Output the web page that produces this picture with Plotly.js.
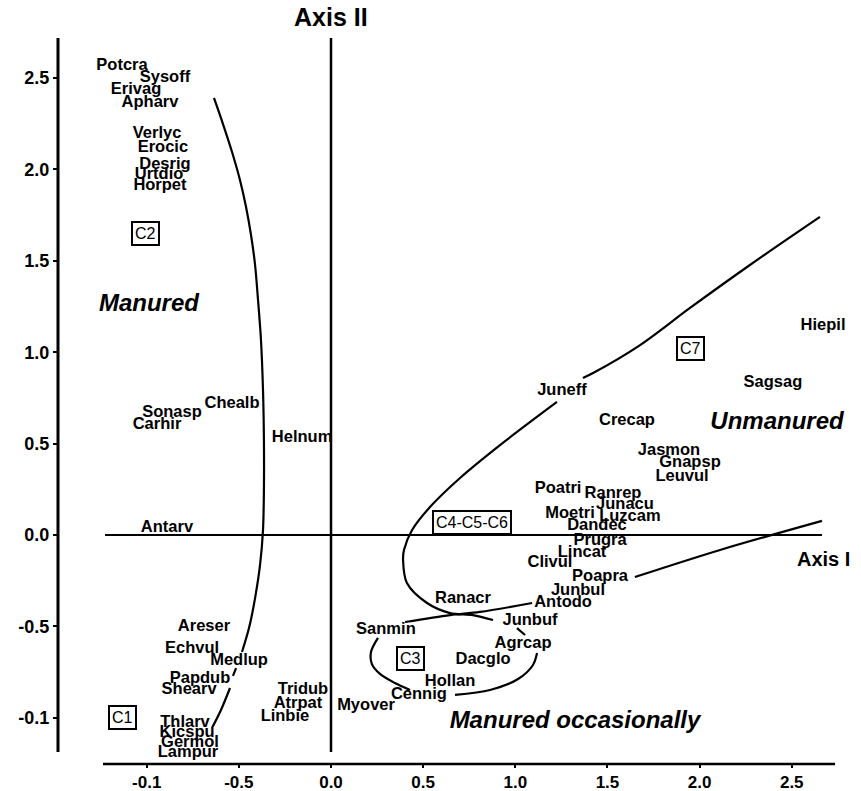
<!DOCTYPE html>
<html>
<head>
<meta charset="utf-8">
<script src="https://cdn.plot.ly/plotly-3.0.1.min.js"></script>
<style>html,body{margin:0;padding:0;background:#fff;}#chart{width:861px;height:791px;}</style>
</head>
<body>
<div id="chart"></div>
<script>
// Species codes and their ordination scores (Axis I, Axis II)
const species = ["Potcra","Sysoff","Erivag","Apharv","Verlyc","Erocic","Desrig","Urtdio","Horpet",
  "Chealb","Sonasp","Carhir","Helnum","Antarv","Areser","Echvul","Medlup","Papdub","Shearv",
  "Thlarv","Kicspu","Germol","Lampur","Tridub","Atrpat","Linbie","Myover","Sanmin","Ranacr",
  "Junbuf","Agrcap","Dacglo","Hollan","Cennig","Antodo","Junbul","Poapra","Clivul","Lincat",
  "Prugra","Dandec","Moetri","Luzcam","Junacu","Ranrep","Poatri","Juneff","Crecap","Jasmon",
  "Gnapsp","Leuvul","Sagsag","Hiepil"];
const axis1 = [-1.134,-0.901,-1.058,-0.982,-0.944,-0.912,-0.901,-0.933,-0.928,
  -0.537,-0.863,-0.944,-0.157,-0.890,-0.689,-0.754,-0.499,-0.711,-0.770,
  -0.792,-0.781,-0.765,-0.776,-0.152,-0.179,-0.250,0.190,0.298,0.716,
  1.080,1.042,0.825,0.646,0.477,1.259,1.340,1.460,1.188,1.362,
  1.460,1.443,1.297,1.622,1.595,1.530,1.232,1.253,1.606,1.834,
  1.948,1.905,2.398,2.670];
const axis2 = [2.566,2.500,2.435,2.364,2.195,2.119,2.024,1.969,1.909,
  0.717,0.667,0.602,0.531,0.038,-0.503,-0.624,-0.689,-0.788,-0.848,
  -1.028,-1.083,-1.138,-1.193,-0.848,-0.925,-0.996,-0.935,-0.520,-0.350,
  -0.470,-0.596,-0.684,-0.804,-0.875,-0.372,-0.306,-0.230,-0.153,-0.098,
  -0.033,0.049,0.115,0.098,0.164,0.224,0.252,0.788,0.624,0.460,
  0.394,0.317,0.832,1.143];

// Releve groups (boxed labels)
const groups = ["C2","C1","C3","C7","C4-C5-C6"];
const groupX = [-1.009,-1.134,0.434,1.953,0.765];
const groupY = [1.652,-0.996,-0.678,1.018,0.071];

// Management regions
const regions = ["Manured","Unmanured","Manured occasionally"];
const regionX = [-0.988,2.420,1.324];
const regionY = [1.258,0.613,-1.023];

// Boundary curves (null = gap where a label sits)
const manuredX = [-0.635,-0.586,-0.537,-0.494,-0.461,-0.434,-0.412,-0.396,-0.380,-0.369,-0.364,-0.364,-0.369,-0.385,-0.412,-0.445,-0.483,null,-0.515,-0.532,null,-0.548,-0.597,-0.646];
const manuredY = [2.391,2.248,2.095,1.942,1.794,1.641,1.477,1.286,1.067,0.793,0.520,0.246,0.027,-0.164,-0.345,-0.509,-0.640,null,-0.728,-0.771,null,-0.837,-0.957,-1.056];
const unmanuredX = [2.653,2.273,1.948,1.677,1.422,1.367,null,1.226,0.917,0.700,0.537,0.440,0.396,0.391,0.412,0.521,0.646,0.770,0.879];
const unmanuredY = [1.740,1.477,1.242,1.039,0.886,0.859,null,0.728,0.492,0.312,0.153,0.027,-0.082,-0.137,-0.263,-0.372,-0.427,-0.438,-0.465];
const occasionalX = [0.402,0.646,0.808,1.091,null,1.649,2.111,2.664];
const occasionalY = [-0.476,-0.438,-0.421,-0.372,null,-0.230,-0.082,0.077];
const c3X = [0.255,0.217,0.222,0.266,0.347,0.429,null,0.673,0.863,1.015,1.096,1.118,null,1.009,1.053];
const c3Y = [-0.563,-0.640,-0.706,-0.760,-0.810,-0.848,null,-0.875,-0.848,-0.788,-0.711,-0.646,null,-0.509,-0.547];

// Tick labels as printed on the original figure
const xTickVals = [-1,-0.5,0,0.5,1,1.5,2,2.5];
const xTickText = ["-0.1","-0.5","0.0","0.5","1.0","1.5","2.0","2.5"];
const yTickVals = [2.5,2,1.5,1,0.5,0,-0.5,-1];
const yTickText = ["2.5","2.0","1.5","1.0","0.5","0.0","-0.5","-0.1"];

const FONT = "Liberation Sans, Arial, sans-serif";
const NARROW = "Liberation Sans Narrow, Arial Narrow, Liberation Sans, sans-serif";
const lineStyle = {color:"#000", width:2.2, shape:"spline", smoothing:0.9};

const traces = [
  {x:manuredX, y:manuredY, mode:"lines", line:lineStyle, connectgaps:false, hoverinfo:"skip"},
  {x:unmanuredX, y:unmanuredY, mode:"lines", line:lineStyle, connectgaps:false, hoverinfo:"skip"},
  {x:occasionalX, y:occasionalY, mode:"lines", line:lineStyle, connectgaps:false, hoverinfo:"skip"},
  {x:c3X, y:c3Y, mode:"lines", line:lineStyle, connectgaps:false, hoverinfo:"skip"},
  {x:axis1, y:axis2, text:species, mode:"text", textposition:"middle center",
   textfont:{family:FONT, size:16.5, color:"#000", weight:"bold"}, cliponaxis:false, hoverinfo:"text"},
  {x:regionX, y:regionY, text:regions, mode:"text", textposition:"middle center",
   textfont:{family:FONT, size:24, color:"#000", weight:"bold", style:"italic"}, cliponaxis:false, hoverinfo:"skip"}
];

const annotations = groups.map((g,i)=>({
  x:groupX[i], y:groupY[i], xref:"x", yref:"y", text:g, showarrow:false,
  font:{family:FONT, size:16, color:"#000"}, bordercolor:"#000", borderwidth:2, borderpad:2, bgcolor:"#fff"
}));
annotations.push({x:0, y:1.029, xref:"x", yref:"paper", text:"Axis II", showarrow:false, yanchor:"middle",
  font:{family:NARROW, size:25, color:"#000", weight:"bold"}});
annotations.push({x:2.670, y:-0.131, xref:"x", yref:"y", text:"Axis I", showarrow:false,
  font:{family:FONT, size:20, color:"#000", weight:"bold"}});

const axLine = {color:"#000", width:2.5};
const shapes = [
  {type:"line", xref:"paper", yref:"y", x0:0, x1:0, y0:-1.187, y1:2.719, line:{color:"#000", width:3}, layer:"below"},
  {type:"line", xref:"x", yref:"paper", x0:-1.237, x1:2.735, y0:0, y1:0, line:{color:"#000", width:2.5}, layer:"below"},
  {type:"line", xref:"x", yref:"y", x0:0, x1:0, y0:-1.187, y1:2.719, line:axLine, layer:"below"},
  {type:"line", xref:"x", yref:"y", x0:-1.226, x1:2.664, y0:0, y1:0, line:{color:"#000", width:2}, layer:"below"}
];

const layout = {
  width:861, height:791,
  margin:{l:58, r:14, t:38, b:27, pad:0},
  paper_bgcolor:"#fff", plot_bgcolor:"#fff",
  showlegend:false,
  xaxis:{range:[-1.4813,2.7998], showgrid:false, zeroline:false, showline:false,
    tickmode:"array", tickvals:xTickVals, ticktext:xTickText, ticks:"outside", ticklen:3, tickwidth:2, tickcolor:"#000",
    tickfont:{family:NARROW, size:17, color:"#000", weight:"bold"}, fixedrange:true},
  yaxis:{range:[-1.2527,2.7188], showgrid:false, zeroline:false, showline:false,
    tickmode:"array", tickvals:yTickVals, ticktext:yTickText, ticks:"outside", ticklen:4, tickwidth:2, tickcolor:"#000",
    tickfont:{family:FONT, size:18, color:"#000", weight:"bold"}, fixedrange:true},
  shapes:shapes,
  annotations:annotations
};

Plotly.newPlot("chart", traces, layout, {displayModeBar:false, staticPlot:true});
</script>
</body>
</html>
